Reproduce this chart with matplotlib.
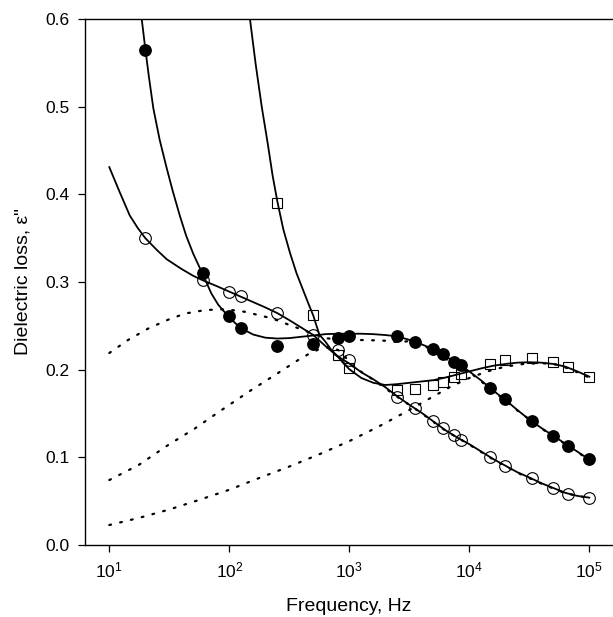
import numpy as np
import matplotlib
matplotlib.use("Agg")
import matplotlib.pyplot as plt

plt.rcParams['font.family'] = ['Liberation Sans', 'DejaVu Sans']
plt.rcParams['mathtext.fontset'] = 'custom'
plt.rcParams['mathtext.rm'] = 'Liberation Sans'
plt.rcParams['mathtext.it'] = 'Liberation Sans:italic'
plt.rcParams['mathtext.default'] = 'regular'

# Measurement frequencies (Hz)
freq = np.array([20, 60, 100, 125, 250, 500, 800, 1000, 2500, 3500, 5000, 6000,
                 7500, 8500, 15000, 20000, 33000, 50000, 66000, 100000])

# Dielectric loss for the three samples
loss_filled = np.array([0.565, 0.310, 0.261, 0.247, 0.227, 0.229, 0.236, 0.238, 0.238,
                        0.232, 0.224, 0.218, 0.209, 0.205, 0.179, 0.166, 0.142, 0.124,
                        0.113, 0.098])
loss_open = np.array([0.350, 0.302, 0.289, 0.284, 0.265, 0.239, 0.222, 0.211, 0.169,
                      0.156, 0.141, 0.133, 0.125, 0.120, 0.100, 0.090, 0.076, 0.065,
                      0.058, 0.054])
freq_sq = np.array([250, 500, 800, 1000, 2500, 3500, 5000, 6000, 7500, 8500, 15000,
                    20000, 33000, 50000, 66000, 100000])
loss_sq = np.array([0.390, 0.262, 0.217, 0.2015, 0.177, 0.178, 0.183, 0.1865, 0.192,
                    0.195, 0.207, 0.211, 0.213, 0.2085, 0.2025, 0.1915])

# Fitted curves (log10 of frequency, loss)
fit_filled_logf = [1.27, 1.30, 1.33, 1.367, 1.42, 1.478, 1.53, 1.589, 1.64, 1.70, 1.778,
                   1.85, 1.908, 1.99, 2.05, 2.10, 2.2, 2.3, 2.4, 2.5, 2.6, 2.7, 2.8, 2.9,
                   3.0, 3.1, 3.2, 3.3, 3.4, 3.5, 3.6, 3.7, 3.78, 3.87, 3.93, 4.0, 4.1,
                   4.2, 4.3, 4.4, 4.5, 4.6, 4.7, 4.8, 4.9, 5.0]
fit_filled = [0.600, 0.566, 0.534, 0.498, 0.462, 0.430, 0.403, 0.375, 0.353, 0.332, 0.309,
              0.287, 0.274, 0.261, 0.253, 0.247, 0.240, 0.2365, 0.2355, 0.236, 0.2375,
              0.239, 0.2405, 0.241, 0.241, 0.241, 0.2405, 0.2395, 0.238, 0.234, 0.229,
              0.2235, 0.217, 0.2095, 0.2045, 0.198, 0.1875, 0.176, 0.1655, 0.154, 0.143,
              0.1335, 0.1245, 0.1155, 0.1065, 0.0975]

fit_open_logf = [1.0, 1.085, 1.17, 1.235, 1.30, 1.40, 1.478, 1.6, 1.7, 1.778, 1.9, 2.0,
                 2.1, 2.2, 2.3, 2.4, 2.5, 2.6, 2.7, 2.8, 2.9, 3.0, 3.1, 3.2, 3.3, 3.4,
                 3.5, 3.6, 3.7, 3.8, 3.9, 4.0, 4.1, 4.2, 4.3, 4.4, 4.5, 4.6, 4.7, 4.8,
                 4.9, 5.0]
fit_open = [0.431, 0.403, 0.376, 0.362, 0.350, 0.336, 0.326, 0.315, 0.307, 0.302, 0.295,
            0.289, 0.283, 0.277, 0.271, 0.2645, 0.2565, 0.248, 0.2395, 0.227, 0.2155,
            0.207, 0.197, 0.189, 0.180, 0.1695, 0.160, 0.151, 0.141, 0.131, 0.1225,
            0.115, 0.1065, 0.098, 0.0905, 0.083, 0.077, 0.0705, 0.065, 0.0595, 0.056,
            0.054]

fit_sq_logf = [2.172, 2.22, 2.27, 2.32, 2.36, 2.40, 2.45, 2.506, 2.56, 2.617, 2.66, 2.70,
               2.75, 2.80, 2.85, 2.90, 2.95, 3.0, 3.1, 3.2, 3.3, 3.4, 3.5, 3.6, 3.7, 3.8,
               3.9, 4.0, 4.1, 4.2, 4.3, 4.4, 4.5, 4.6, 4.7, 4.8, 4.9, 5.0]
fit_sq = [0.600, 0.548, 0.500, 0.458, 0.422, 0.392, 0.360, 0.333, 0.310, 0.290, 0.275,
          0.2615, 0.240, 0.232, 0.2225, 0.2155, 0.2075, 0.2005, 0.1905, 0.185, 0.1825,
          0.1835, 0.185, 0.1865, 0.188, 0.191, 0.1945, 0.198, 0.2015, 0.2045, 0.2065,
          0.208, 0.2085, 0.208, 0.2065, 0.2035, 0.198, 0.192]

# Relaxation contributions (dotted)
relax1_logf = [1.0, 1.158, 1.325, 1.49, 1.63, 1.80, 1.965, 2.13, 2.353, 2.52, 2.687, 2.8,
               2.9, 3.0, 3.1, 3.2, 3.3, 3.4, 3.5, 3.6, 3.7, 3.8, 3.9, 4.0, 4.2, 4.4,
               4.6, 4.8, 5.0]
relax1 = [0.219, 0.234, 0.247, 0.257, 0.264, 0.268, 0.269, 0.266, 0.2586, 0.250, 0.2415,
          0.236, 0.2345, 0.234, 0.2338, 0.2335, 0.233, 0.2315, 0.2325, 0.228, 0.2225,
          0.213, 0.201, 0.1975, 0.1755, 0.1535, 0.133, 0.115, 0.097]

relax2_logf = [1.0, 1.245, 1.49, 1.714, 1.936, 2.186, 2.45, 2.55, 2.65, 2.75, 2.85, 2.95,
               3.0, 3.2, 3.4, 3.6, 3.8, 4.0, 4.2, 4.4, 4.6, 4.8, 5.0]
relax2 = [0.0741, 0.0913, 0.114, 0.133, 0.154, 0.177, 0.200, 0.209, 0.217, 0.2235, 0.2265,
          0.219, 0.2065, 0.1885, 0.169, 0.1505, 0.1305, 0.1145, 0.0975, 0.0825, 0.070,
          0.059, 0.0535]

relax3_logf = [1.0, 1.25, 1.5, 1.75, 2.0, 2.25, 2.5, 2.75, 3.0, 3.25, 3.5, 3.7, 3.85, 4.0,
               4.15, 4.3, 4.45, 4.6, 4.75, 4.8, 4.9, 5.0]
relax3 = [0.0228, 0.031, 0.0405, 0.0515, 0.063, 0.0765, 0.0895, 0.1035, 0.1185, 0.1355,
          0.154, 0.1695, 0.181, 0.1905, 0.198, 0.2035, 0.2065, 0.2075, 0.2055, 0.2025,
          0.197, 0.191]

W, H = 613, 617
fig = plt.figure(figsize=(W / 100, H / 100), dpi=100)
ax = fig.add_axes([84.5 / W, 72 / H, (W - 84.5) / W, 526 / H])

dot = dict(color='black', lw=1.6, linestyle=(0, (0.8, 4.2)), dash_capstyle='round')
for lf, v in ((relax1_logf, relax1), (relax2_logf, relax2), (relax3_logf, relax3)):
    ax.plot(10 ** np.asarray(lf), v, **dot, zorder=2)

solid = dict(color='black', lw=1.3, zorder=3, solid_joinstyle='round')
ax.plot(10 ** np.asarray(fit_filled_logf), fit_filled, **solid)
ax.plot(10 ** np.asarray(fit_open_logf), fit_open, **solid)
ax.plot(10 ** np.asarray(fit_sq_logf), fit_sq, **solid)

ax.plot(freq, loss_filled, 'o', ms=8.2, mfc='black', mec='black', zorder=4)
ax.plot(freq, loss_open, 'o', ms=8.4, mfc='none', mec='black', mew=0.8, zorder=4)
ax.plot(freq_sq, loss_sq, 's', ms=7, mfc='none', mec='black', mew=0.8, zorder=4)

ax.set_xscale('log')
ax.set_xlim(10 ** 0.7933, 10 ** 5.197)
ax.set_ylim(0, 0.6)
ax.set_xticks([1e1, 1e2, 1e3, 1e4, 1e5])
ax.xaxis.set_minor_locator(matplotlib.ticker.NullLocator())
ax.set_yticks([0.0, 0.1, 0.2, 0.3, 0.4, 0.5, 0.6])
ax.yaxis.set_major_formatter(matplotlib.ticker.FormatStrFormatter('%.1f'))
ax.tick_params(direction='out', length=5, width=0.9, labelsize=12.5, pad=6)
ax.spines['right'].set_visible(False)
for s in ('left', 'bottom', 'top'):
    ax.spines[s].set_linewidth(1.0)

ax.set_xlabel('Frequency, Hz', fontsize=14, labelpad=13)
ax.set_ylabel('Dielectric loss, ε"', fontsize=14, labelpad=10)

fig.savefig('out.png', dpi=100)
